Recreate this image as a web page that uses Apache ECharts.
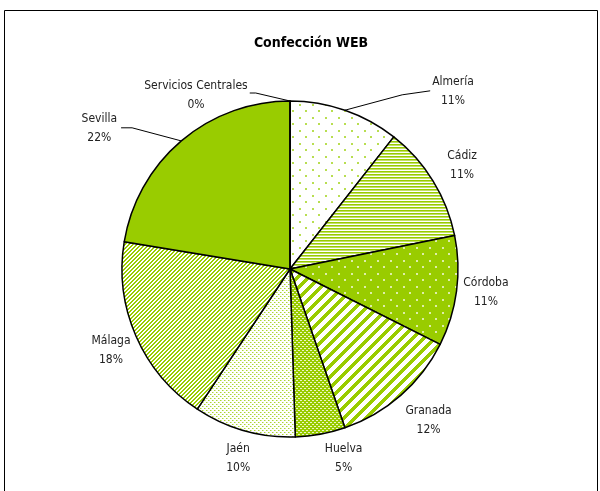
<!DOCTYPE html>
<html>
<head>
<meta charset="utf-8">
<script src="https://cdn.jsdelivr.net/npm/echarts@6/dist/echarts.min.js"></script>
<style>
html,body{margin:0;padding:0;background:#fff;}
#chart{width:600px;height:491px;}
</style>
</head>
<body>
<div id="chart"></div>
<script>
// ---- data ----
const title = 'Confección WEB';
const categories = ['Almería', 'Cádiz', 'Córdoba', 'Granada', 'Huelva', 'Jaén', 'Málaga', 'Sevilla', 'Servicios Centrales'];
const values = [10.6, 11.2, 10.6, 12.3, 4.8, 9.8, 18.3, 22.4, 0];

// ---- layout / style ----
const CX = 290, CY = 269, R = 168, GAP = 10;
const FONT = '"Liberation Sans Narrow", "DejaVu Sans Condensed", "Arial Narrow", sans-serif';
const G = [153, 204, 0], W = [255, 255, 255];

function tile(w, h, fn) {
  const c = document.createElement('canvas');
  c.width = w; c.height = h;
  const ctx = c.getContext('2d');
  const img = ctx.createImageData(w, h);
  for (let y = 0; y < h; y++) {
    for (let x = 0; x < w; x++) {
      const col = fn(x, y);
      const k = (y * w + x) * 4;
      img.data[k] = col[0]; img.data[k + 1] = col[1]; img.data[k + 2] = col[2]; img.data[k + 3] = 255;
    }
  }
  ctx.putImageData(img, 0, 0);
  return c;
}
function inDot(x, y, px, py, s) { return x >= px && x < px + s && y >= py && y < py + s; }

const patterns = [
  // Almería: sparse green dots on white
  tile(13, 13, (x, y) => (inDot(x, y, 0, 0, 2) || inDot(x, y, 6, 6, 2)) ? [184, 222, 80] : W),
  // Cádiz: narrow horizontal stripes
  tile(1, 3, (x, y) => y === 0 ? G : (y === 1 ? [194, 224, 102] : W)),
  // Córdoba: white dots on green
  tile(13, 13, (x, y) => (inDot(x, y, 0, 0, 2) || inDot(x, y, 6, 6, 2)) ? [222, 238, 170] : G),
  // Granada: wide diagonal stripes
  tile(11, 11, (x, y) => ((x + y) % 11) < 5 ? G : W),
  // Huelva: green with small white dashes
  tile(4, 4, (x, y) => ((y === 0 && x < 2) || (y === 2 && x >= 2)) ? [235, 245, 200] : G),
  // Jaén: dense green dots on white
  tile(4, 4, (x, y) => ((x === 0 && y === 0) || (x === 2 && y === 2)) ? [170, 213, 50] : ((x === 1 && y === 0) || (x === 3 && y === 2) ? [215, 236, 150] : W)),
  // Málaga: narrow diagonal stripes
  tile(4, 4, (x, y) => ((x + y) % 4) < 2 ? G : W),
  // Sevilla: solid
  null,
  // Servicios Centrales
  null
];

// label nudges (px) for labels placed away from the default spot
const labelNudge = { 0: [98, 9], 1: [8, 0], 2: [-3, -3], 3: [6, 3], 4: [18, -4], 6: [2, 3], 7: [-64, 10], 8: [-94, 23] };
const leaderLine = { 0: 'right', 7: 'left', 8: 'left' };

const total = values.reduce((a, b) => a + b, 0);

function midAngle(i) {
  let cum = 0;
  for (let j = 0; j < i; j++) cum += values[j];
  return (cum + values[i] / 2) / total * Math.PI * 2;
}

function labelLayout(p) {
  const i = p.dataIndex;
  const a = midAngle(i);
  const ux = Math.sin(a), uy = -Math.cos(a);
  const w = p.labelRect.width, h = p.labelRect.height;
  const off = labelNudge[i] || [0, 0];
  const x = CX + (R + GAP) * ux + ux * w / 2 + off[0];
  const y = CY + (R + GAP) * uy + uy * h / 2 + off[1];
  const res = { x: x, y: y, align: 'center', verticalAlign: 'middle' };
  if (leaderLine[i]) {
    const p0 = [CX + R * ux, CY + R * uy];
    let end, bend;
    if (leaderLine[i] === 'right') {
      end = [x - w / 2 - 2, y - 1];
      bend = [end[0] - 28, end[1] + 4];
    } else if (i === 7) {
      end = [x + w / 2 + 4, y - 1];
      bend = [end[0] + 11, end[1]];
    } else {
      end = [x + w / 2 + 2, y - 2];
      bend = [end[0] + 6, end[1]];
    }
    res.labelLinePoints = [p0, bend, end];
  }
  return res;
}

const data = categories.map((name, i) => {
  const item = {
    name: name,
    value: values[i],
    itemStyle: { color: patterns[i] ? { image: patterns[i], repeat: 'repeat' } : 'rgb(153,204,0)' }
  };
  if (leaderLine[i]) item.labelLine = { show: true };
  return item;
});

const chart = echarts.init(document.getElementById('chart'), null, { renderer: 'canvas' });
chart.setOption({
  animation: false,
  backgroundColor: '#ffffff',
  title: {
    text: title,
    left: 306,
    top: 31,
    textAlign: 'center',
    textStyle: { fontFamily: FONT, fontWeight: 'bold', fontSize: 14, color: '#000' }
  },
  graphic: [{
    type: 'rect',
    shape: { x: 4.5, y: 10.5, width: 593, height: 500 },
    style: { fill: 'none', stroke: '#000', lineWidth: 1 },
    silent: true, z: -1
  }],
  series: [{
    type: 'pie',
    center: [CX, CY],
    radius: R,
    startAngle: 90,
    clockwise: true,
    avoidLabelOverlap: false,
    minShowLabelAngle: 0,
    data: data,
    itemStyle: { borderColor: '#000', borderWidth: 1.5 },
    label: {
      show: true,
      position: 'outside',
      fontFamily: FONT,
      fontSize: 12,
      lineHeight: 19,
      color: '#222',
      formatter: p => p.name + '\n' + Math.round(p.percent) + '%'
    },
    labelLine: { show: false, lineStyle: { color: '#000', width: 1 } },
    labelLayout: labelLayout,
    emphasis: { disabled: true }
  }]
});
</script>
</body>
</html>
